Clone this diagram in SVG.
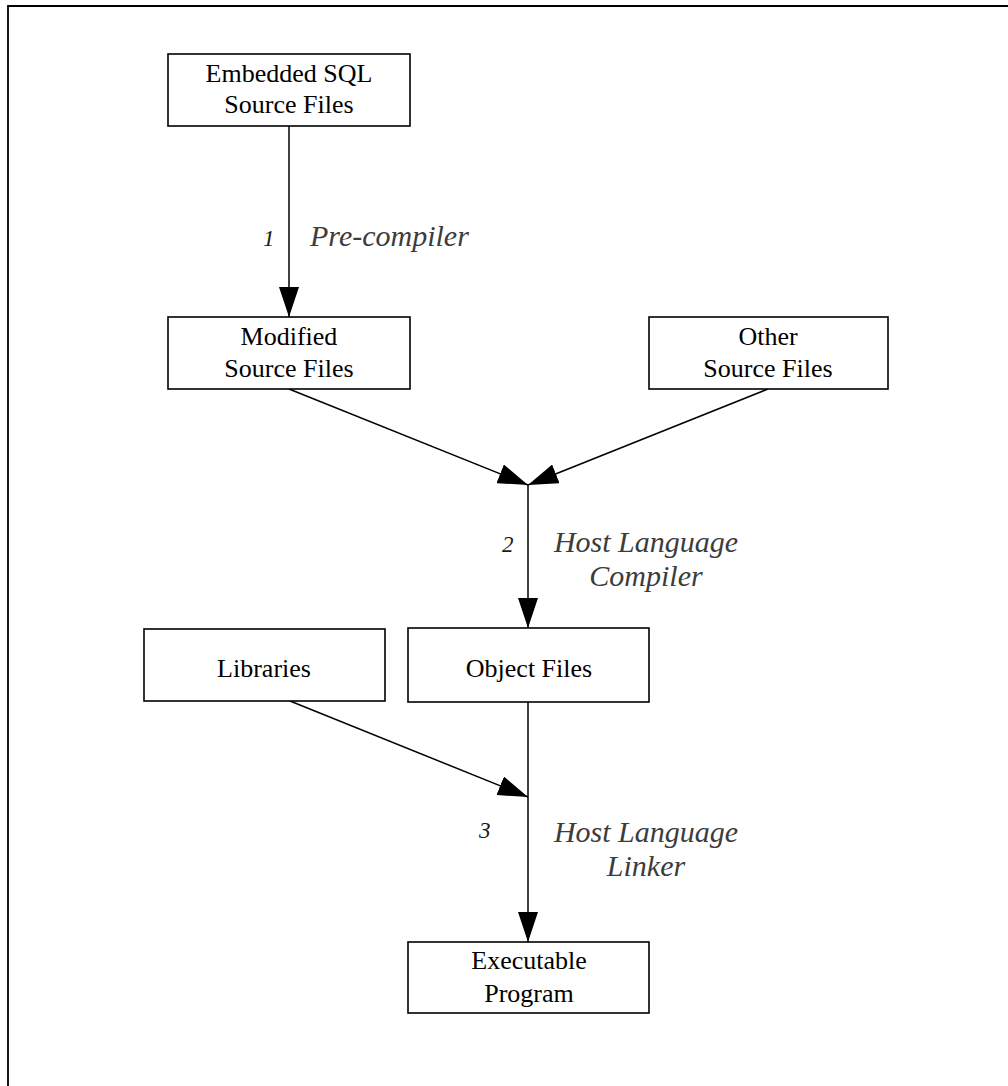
<svg xmlns="http://www.w3.org/2000/svg" width="1008" height="1086" viewBox="0 0 1008 1086">
  <style>
    .box { fill: #ffffff; stroke: #000000; stroke-width: 1.6; }
    .name { font-family: "Liberation Serif", "Times New Roman", serif; font-size: 26px; fill: #000000; text-anchor: middle; }
    .edge { fill: none; stroke: #000000; stroke-width: 1.5; }
    .step { font-family: "Liberation Serif", "Times New Roman", serif; font-style: italic; font-size: 23px; fill: #1a1a1a; }
    .tool { font-family: "Liberation Serif", "Times New Roman", serif; font-style: italic; font-size: 30px; fill: #3c3c3c; }
  </style>
  <defs>
    <marker id="head" markerUnits="userSpaceOnUse" markerWidth="32" markerHeight="20" refX="30" refY="10" orient="auto">
      <path d="M0,0 L30,10 L0,20 Z" fill="#000000"/>
    </marker>
  </defs>

  <rect width="1008" height="1086" fill="#ffffff"/>
  <!-- page frame: top and left rules -->
  <path d="M8,1086 L8,6 L1008,6" fill="none" stroke="#000000" stroke-width="1.8"/>

  <g id="connectors">
    <line class="edge" x1="289" y1="126" x2="289" y2="317" marker-end="url(#head)"/>
    <line class="edge" x1="289" y1="389" x2="528" y2="485" marker-end="url(#head)"/>
    <line class="edge" x1="768" y1="389" x2="528" y2="485" marker-end="url(#head)"/>
    <line class="edge" x1="528" y1="485" x2="528" y2="628" marker-end="url(#head)"/>
    <line class="edge" x1="290" y1="701" x2="528" y2="797" marker-end="url(#head)"/>
    <line class="edge" x1="528" y1="702" x2="528" y2="942" marker-end="url(#head)"/>
  </g>

  <g id="labels">
    <text class="step" x="263" y="246">1</text>
    <text class="tool" x="310" y="246">Pre-compiler</text>
    <text class="step" x="502" y="552">2</text>
    <text class="tool" x="646" y="552" text-anchor="middle">Host Language</text>
    <text class="tool" x="646" y="586" text-anchor="middle">Compiler</text>
    <text class="step" x="479" y="838">3</text>
    <text class="tool" x="646" y="842" text-anchor="middle">Host Language</text>
    <text class="tool" x="646" y="876" text-anchor="middle">Linker</text>
  </g>

  <g id="embedded-sql">
    <rect class="box" x="168" y="54" width="242" height="72"/>
    <text class="name" x="289" y="82">Embedded SQL</text>
    <text class="name" x="289" y="113">Source Files</text>
  </g>

  <g id="modified-source">
    <rect class="box" x="168" y="317" width="242" height="72"/>
    <text class="name" x="289" y="345">Modified</text>
    <text class="name" x="289" y="377">Source Files</text>
  </g>

  <g id="other-source">
    <rect class="box" x="649" y="317" width="239" height="72"/>
    <text class="name" x="768" y="345">Other</text>
    <text class="name" x="768" y="377">Source Files</text>
  </g>

  <g id="libraries">
    <rect class="box" x="144" y="629" width="241" height="72"/>
    <text class="name" x="264" y="677">Libraries</text>
  </g>

  <g id="object-files">
    <rect class="box" x="408" y="628" width="241" height="74"/>
    <text class="name" x="529" y="677">Object Files</text>
  </g>

  <g id="executable">
    <rect class="box" x="408" y="942" width="241" height="71"/>
    <text class="name" x="529" y="969">Executable</text>
    <text class="name" x="529" y="1002">Program</text>
  </g>
</svg>
